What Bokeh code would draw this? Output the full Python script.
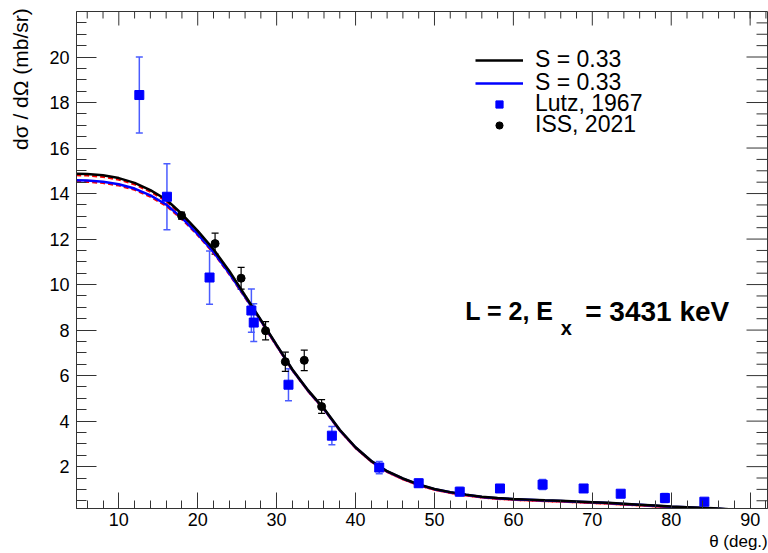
import numpy as np
from bokeh.plotting import figure
from bokeh.models import (ColumnDataSource, Whisker, TeeHead, FixedTicker,
                          Range1d, Label, Legend, LegendItem)
from bokeh.embed import file_html
from bokeh.resources import INLINE

# ---------------- data ----------------
# Lutz, 1967 (blue squares)
lutz_theta = [12.6, 16.1, 21.5, 26.8, 27.1, 31.5, 37.0, 43.0, 48.0, 53.2, 58.3, 63.7, 68.9, 73.6, 79.2, 84.2]
lutz_xs = [18.33, 13.86, 10.31, 8.86, 8.33, 5.60, 3.36, 1.96, 1.27, 0.90, 1.04, 1.21, 1.04, 0.81, 0.62, 0.46]
lutz_err = [1.67, 1.45, 1.17, 0.95, 0.83, 0.70, 0.40, 0.27, 0.17, 0.18, 0.12, 0.22, 0.12, 0.12, 0.20, 0.10]

# ISS, 2021 (black circles)
iss_theta = [17.95, 22.2, 25.5, 28.6, 31.1, 33.5, 35.7]
iss_xs = [13.03, 11.80, 10.28, 7.97, 6.61, 6.67, 4.64]
iss_err = [0.15, 0.46, 0.48, 0.40, 0.42, 0.45, 0.30]

# DWBA curves
th_theta = [4.6, 6, 8, 10, 12, 14, 16, 18, 20, 22, 24, 26, 28, 30, 32, 34, 36, 38, 40,
            42, 44, 46, 48, 50, 52, 54, 56, 58, 60, 62, 64, 66, 68, 70, 72, 74, 76,
            78, 80, 82, 84, 86, 87.3]
s_black = [14.87, 14.86, 14.80, 14.68, 14.47, 14.15, 13.74, 13.10, 12.36, 11.55, 10.60, 9.52, 8.45,
           7.35, 6.27, 5.35, 4.55, 3.62, 2.85, 2.25, 1.80, 1.48, 1.22, 1.02, 0.88, 0.77,
           0.68, 0.62, 0.58, 0.55, 0.52, 0.50, 0.47, 0.44, 0.41, 0.37, 0.33, 0.29, 0.25,
           0.22, 0.19, 0.16, 0.13]
s_blue = [14.58, 14.57, 14.52, 14.41, 14.22, 13.92, 13.52, 12.93, 12.22, 11.43, 10.50, 9.46, 8.42,
          7.33, 6.25, 5.33, 4.53, 3.60, 2.84, 2.24, 1.79, 1.47, 1.21, 1.01, 0.87, 0.76,
          0.67, 0.61, 0.57, 0.54, 0.51, 0.49, 0.46, 0.43, 0.40, 0.36, 0.32, 0.28, 0.24,
          0.21, 0.18, 0.15, 0.12]
red_a = [14.80, 14.79, 14.73, 14.61, 14.40, 14.08, 13.67, 13.03, 12.29, 11.48, 10.54, 9.47, 8.40,
         7.30, 6.23, 5.31, 4.51, 3.58, 2.81, 2.21, 1.76, 1.44, 1.18, 0.98, 0.84, 0.73,
         0.64, 0.58, 0.54, 0.51, 0.48, 0.46, 0.43, 0.40, 0.37, 0.33, 0.29, 0.25, 0.21,
         0.18, 0.15, 0.12, 0.09]
red_b = [14.52, 14.51, 14.46, 14.35, 14.16, 13.86, 13.46, 12.87, 12.16, 11.38, 10.45, 9.42, 8.38,
         7.29, 6.22, 5.30, 4.50, 3.57, 2.81, 2.21, 1.76, 1.44, 1.18, 0.98, 0.84, 0.73,
         0.64, 0.58, 0.54, 0.51, 0.48, 0.46, 0.43, 0.40, 0.37, 0.33, 0.29, 0.25, 0.21,
         0.18, 0.15, 0.12, 0.09]

x_major = [10, 20, 30, 40, 50, 60, 70, 80, 90]
x_minor = [6, 8, 12, 14, 16, 18, 22, 24, 26, 28, 32, 34, 36, 38, 42, 44, 46, 48, 52, 54, 56, 58,
           62, 64, 66, 68, 72, 74, 76, 78, 82, 84, 86, 88, 90, 92]
y_major = [2, 4, 6, 8, 10, 12, 14, 16, 18, 20]
y_minor = [0.5, 1, 1.5, 2.5, 3, 3.5, 4.5, 5, 5.5, 6.5, 7, 7.5, 8.5, 9, 9.5, 10.5, 11, 11.5,
           12.5, 13, 13.5, 14.5, 15, 15.5, 16.5, 17, 17.5, 18.5, 19, 19.5, 20.5, 21, 21.5]

legend_labels = ["S = 0.33", "S = 0.33", "Lutz, 1967", "ISS, 2021"]
x_title = "θ (deg.)"
y_title = "dσ / dΩ (mb/sr)"

X_LO, X_HI = 4.64, 92.2
Y_LO, Y_HI = 0.16, 22.0

FONT = "Liberation Sans"
AX = "#333333"
NBSP = "\u00a0"

# ---------------- figure ----------------
p = figure(width=768, height=553, output_backend="svg", toolbar_location=None,
           x_range=Range1d(X_LO, X_HI), y_range=Range1d(Y_LO, Y_HI),
           min_border_left=76, min_border_right=1, min_border_top=11, min_border_bottom=44,
           background_fill_color="white", border_fill_color="white")
p.grid.visible = False
p.outline_line_color = AX
p.outline_line_width = 1

for ax, ticks, minors, tin, tmin in ((p.xaxis[0], x_major, x_minor, 16, 8),
                                     (p.yaxis[0], y_major, y_minor, 20, 10)):
    ax.ticker = FixedTicker(ticks=ticks, minor_ticks=minors)
    ax.major_tick_in = tin
    ax.major_tick_out = 0
    ax.minor_tick_in = tmin
    ax.minor_tick_out = 0
    ax.axis_line_color = AX
    ax.major_tick_line_color = AX
    ax.minor_tick_line_color = AX
    ax.major_label_text_font = FONT
    ax.major_label_text_font_size = "18px"
    ax.major_label_text_color = "black"
p.xaxis[0].major_label_standoff = 4
p.yaxis[0].major_label_standoff = 7

# axis titles pushed to the axis ends (ROOT style) with leading no-break spaces
xa, ya = p.xaxis[0], p.yaxis[0]
xa.axis_label = NBSP * 134 + x_title
xa.axis_label_standoff = 3
ya.axis_label = NBSP * 62 + y_title
ya.axis_label_standoff = 14
for a, fs in ((xa, "17px"), (ya, "21px")):
    a.axis_label_text_font = FONT
    a.axis_label_text_font_style = "normal"
    a.axis_label_text_font_size = fs
    a.axis_label_text_color = "black"

# inward ticks on the top and right frame edges (half of each dash is clipped by the frame)
p.scatter(x_major, [Y_HI] * len(x_major), marker="dash", angle=np.pi / 2, size=28,
          line_color=AX, line_width=1)
p.scatter(x_minor, [Y_HI] * len(x_minor), marker="dash", angle=np.pi / 2, size=14,
          line_color=AX, line_width=1)
p.scatter([X_HI] * len(y_major), y_major, marker="dash", size=42, line_color=AX, line_width=1)
p.scatter([X_HI] * len(y_minor), y_minor, marker="dash", size=22, line_color=AX, line_width=1)

# ---------------- curves ----------------
p.line(th_theta, red_a, line_color="red", line_width=2, line_dash="5 3")
p.line(th_theta, red_b, line_color="red", line_width=2, line_dash="5 3")
r_blue = p.line(th_theta, s_blue, line_color="blue", line_width=2.5)
r_black = p.line(th_theta, s_black, line_color="black", line_width=2.5)

# ---------------- data points ----------------
lutz_src = ColumnDataSource(dict(
    x=lutz_theta, y=lutz_xs,
    lo=[v - e for v, e in zip(lutz_xs, lutz_err)],
    hi=[v + e for v, e in zip(lutz_xs, lutz_err)]))
iss_src = ColumnDataSource(dict(
    x=iss_theta, y=iss_xs,
    lo=[v - e for v, e in zip(iss_xs, iss_err)],
    hi=[v + e for v, e in zip(iss_xs, iss_err)]))

p.add_layout(Whisker(source=lutz_src, base="x", lower="lo", upper="hi", dimension="height",
                     line_color="#4a5cff", line_width=1.5,
                     upper_head=TeeHead(size=7, line_color="#4a5cff", line_width=1.5),
                     lower_head=TeeHead(size=7, line_color="#4a5cff", line_width=1.5)))
p.add_layout(Whisker(source=iss_src, base="x", lower="lo", upper="hi", dimension="height",
                     line_color="black", line_width=1.2,
                     upper_head=TeeHead(size=7, line_color="black", line_width=1.2),
                     lower_head=TeeHead(size=7, line_color="black", line_width=1.2)))

r_lutz = p.scatter("x", "y", source=lutz_src, marker="square", size=9,
                   fill_color="blue", line_color="blue")
r_iss = p.scatter("x", "y", source=iss_src, marker="circle", size=8,
                  fill_color="black", line_color="black")

# legend-only error-bar samples (no data)
r_lutz_bar = p.scatter(x=[], y=[], marker="dash", angle=np.pi / 2, size=16,
                       line_color="blue", line_width=1.5)
r_iss_bar = p.scatter(x=[], y=[], marker="dash", angle=np.pi / 2, size=16,
                      line_color="black", line_width=1.5)

# one single-row legend per entry so the rows can sit as tightly as in the reference
legend_rows = [[r_black], [r_blue], [r_lutz_bar, r_lutz], [r_iss_bar, r_iss]]
legend_bottoms = [435, 412, 391, 370]
for lab, rends, yb in zip(legend_labels, legend_rows, legend_bottoms):
    p.add_layout(Legend(items=[LegendItem(label=lab, renderers=rends)],
                        location=(399, yb), orientation="vertical",
                        glyph_width=48, glyph_height=18, label_height=18, label_standoff=12,
                        padding=0, margin=0, border_line_color=None,
                        background_fill_alpha=0, label_text_font=FONT,
                        label_text_font_size="23px", label_text_color="black",
                        label_text_line_height=0.95), "center")

# ---------------- texts ----------------
p.add_layout(Label(x=53.9, y=8.82, text="L = 2, E", text_font=FONT,
                   text_font_style="bold", text_font_size="25px", text_baseline="alphabetic",
                   text_color="black"))
p.add_layout(Label(x=66.0, y=8.08, text="x", text_font=FONT,
                   text_font_style="bold", text_font_size="20px", text_baseline="alphabetic",
                   text_color="black"))
p.add_layout(Label(x=69.1, y=8.82, text="= 3431 keV", text_font=FONT,
                   text_font_style="bold", text_font_size="28px", text_baseline="alphabetic",
                   text_color="black"))

open("out.html", "w").write(file_html(p, INLINE))
